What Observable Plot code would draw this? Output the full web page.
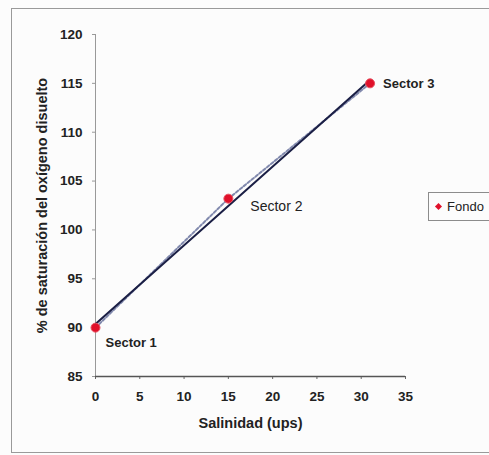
<!DOCTYPE html>
<html><head><meta charset="utf-8">
<script src="https://cdn.jsdelivr.net/npm/d3@7"></script>
<script src="https://cdn.jsdelivr.net/npm/@observablehq/plot@0.6"></script>
<style>
body{margin:0;background:#fff;}
#wrap{position:relative;width:489px;height:455px;overflow:hidden;font-family:"Liberation Sans",Arial,sans-serif;background:#fcfcfc;}
#border{position:absolute;left:11px;top:8px;width:500px;height:443px;border:1px solid #9a9a9a;}
#chart{position:absolute;left:0;top:0;}
#legend{position:absolute;left:428px;top:192px;width:80px;height:27px;border:1px solid #8c8c8c;font-size:13px;line-height:27px;color:#222;background:#fcfcfc;white-space:nowrap;}
#legend span.m{display:inline-block;width:5px;height:5px;background:#e0102a;transform:rotate(45deg);margin:0 6px 2px 7px;}
</style></head>
<body><div id="wrap"><div id="border"></div><div id="chart"></div><div id="legend"><span class="m"></span>Fondo</div></div>
<script>
const sectors = ["Sector 1", "Sector 2", "Sector 3"];
const salinity = [0, 15, 31];
const oxygen = [90, 103.2, 115];
const xTicks = [0, 5, 10, 15, 20, 25, 30, 35];
const yTicks = [85, 90, 95, 100, 105, 110, 115, 120];

const data = sectors.map((s, i) => ({sector: s, x: salinity[i], y: oxygen[i]}));
const f = "Liberation Sans, Arial, sans-serif";

const chart = Plot.plot({
  width: 489, height: 455,
  marginLeft: 95, marginRight: 84, marginTop: 34, marginBottom: 79,
  style: {fontFamily: f, fontSize: "13px", background: "transparent", color: "#222"},
  x: {domain: [0, 35]},
  y: {domain: [85, 120]},
  marks: [
    Plot.axisY({ticks: yTicks, tickSize: 3, tickPadding: 10, fontWeight: "bold", fontSize: 13.5, stroke: "#999",
      label: null}),
    Plot.axisY({ticks: [], tickSize: 0,
      label: "% de saturación del oxígeno disuelto", labelAnchor: "center", labelOffset: 59, labelArrow: "none"}),
    Plot.axisX({ticks: xTicks, tickSize: 3, tickPadding: 12, fontWeight: "bold", fontSize: 13.5, stroke: "#666",
      label: null}),
    Plot.axisX({ticks: [], tickSize: 0,
      label: "Salinidad (ups)", labelAnchor: "center", labelOffset: 51, labelArrow: "none"}),
    Plot.ruleX([0], {stroke: "#999", strokeWidth: 1}),
    Plot.ruleY([85], {stroke: "#555", strokeWidth: 1.5}),
    Plot.line(data, {x: "x", y: "y", stroke: "#8189ad", strokeWidth: 2, strokeDasharray: "3,2"}),
    Plot.linearRegressionY(data, {x: "x", y: "y", stroke: "#1b1f45", strokeWidth: 2, ci: 0}),
    Plot.dot(data, {x: "x", y: "y", r: 4.5, fill: "#e0102a", stroke: "#e85060", strokeWidth: 1}),
    Plot.text(data.filter(d => d.sector === "Sector 1"), {x: "x", y: "y", text: "sector", dx: 10, dy: 15, textAnchor: "start", fontWeight: "bold", fontSize: 13, fill: "#222"}),
    Plot.text(data.filter(d => d.sector === "Sector 2"), {x: "x", y: "y", text: "sector", dx: 22, dy: 8, textAnchor: "start", fontSize: 14, fill: "#222"}),
    Plot.text(data.filter(d => d.sector === "Sector 3"), {x: "x", y: "y", text: "sector", dx: 13, dy: 0, textAnchor: "start", fontWeight: "bold", fontSize: 13, fill: "#222"})
  ]
});
chart.querySelectorAll('[aria-label="y-axis label"], [aria-label="x-axis label"]').forEach(g => {
  g.setAttribute("font-weight", "bold");
  g.setAttribute("font-size", "14.5");
});
chart.querySelectorAll('[aria-label="y-axis label"] text, [aria-label="x-axis label"] text').forEach(t => {
  t.setAttribute("font-weight", "bold");
  t.setAttribute("font-size", "14.5");
});
document.getElementById("chart").append(chart);
</script>
</body></html>
